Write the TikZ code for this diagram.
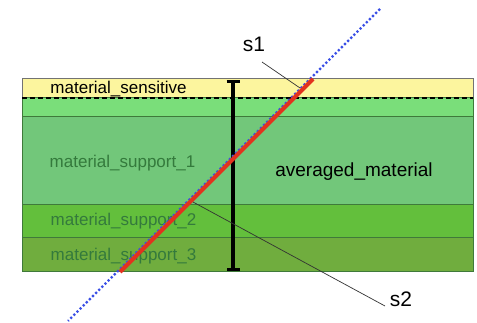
\documentclass[tikz,border=0pt]{standalone}
\usepackage{fontspec}
\setmainfont{Liberation Sans}
\usetikzlibrary{arrows.meta}
\definecolor{csens}{HTML}{FCF59E}
\definecolor{cband}{HTML}{7ADE7A}
\definecolor{csupa}{HTML}{72C77A}
\definecolor{csupb}{HTML}{63BF3C}
\definecolor{csupc}{HTML}{70AD3E}
\definecolor{cedge}{HTML}{3F7A3A}
\definecolor{clabel}{HTML}{347A3C}
\definecolor{cred}{HTML}{E2321E}
\definecolor{cblue}{HTML}{3A4FE6}
\tikzset{
  layer/.style={draw=cedge, line width=1pt},
  lbl/.style={anchor=base, inner sep=0pt, font=\fontsize{17}{20}\selectfont},
  suplbl/.style={lbl, text=clabel},
  biglbl/.style={anchor=base, inner sep=0pt, font=\fontsize{19}{22}\selectfont},
  slbl/.style={anchor=base, inner sep=0pt, font=\fontsize{21}{24}\selectfont},
  leader/.style={draw=black!80, line width=0.7pt},
  thickbar/.style={line width=3.5pt, {Bar[width=13pt,line width=3pt]}-{Bar[width=13pt,line width=3pt]}},
}
\begin{document}
\begin{tikzpicture}[x=1pt,y=-1pt]
\useasboundingbox (0,0) rectangle (477,323);
% layers
\draw[layer, fill=csens, draw=black!55] (22,79) rectangle (473,98);
\draw[layer, fill=cband] (22,98) rectangle (473,117);
\draw[layer, fill=csupa] (22,117) rectangle (473,205);
\draw[layer, fill=csupb] (22,205) rectangle (473,238);
\draw[layer, fill=csupc] (22,238) rectangle (473,272);
\draw[black!55, line width=1pt] (22,79) -- (473,79);
% dashed boundary
\draw[black, line width=2.3pt, dash pattern=on 5pt off 3pt] (22,98) -- (473,98);
% labels
\node[lbl] (sens) at (118.5,94) {material\_sensitive};
\node[suplbl] (supa) at (122.5,168) {material\_support\_1};
\node[suplbl] (supb) at (123.5,226) {material\_support\_2};
\node[suplbl] (supc) at (123.5,261) {material\_support\_3};
\node[biglbl] (avg) at (354,177) {averaged\_material};
% thickness bar
\coordinate (bartop) at (233,80.5);
\coordinate (barbot) at (233,271.5);
\draw[thickbar] (bartop) -- (barbot);
% track
\coordinate (blueA) at (380,9);
\coordinate (blueB) at (68,321);
\coordinate (redA) at (313,79);
\coordinate (redB) at (120,272);
\draw[cblue, line width=2.4pt, dash pattern=on 2.2pt off 2.2pt] (blueA) -- (blueB);
\draw[cred, line width=4.2pt] (redA) -- (redB);
% s labels
\node[slbl] (s1) at (254,52) {s1};
\node[slbl] (s2) at (401,307) {s2};
\coordinate (s1end) at (262,62);
\coordinate (s1tip) at (300,88);
\coordinate (s2tip) at (193,202);
\coordinate (s2end) at (385,306);
\draw[leader] (s1end) -- (s1tip);
\draw[leader] (s2tip) -- (s2end);
\end{tikzpicture}
\end{document}
